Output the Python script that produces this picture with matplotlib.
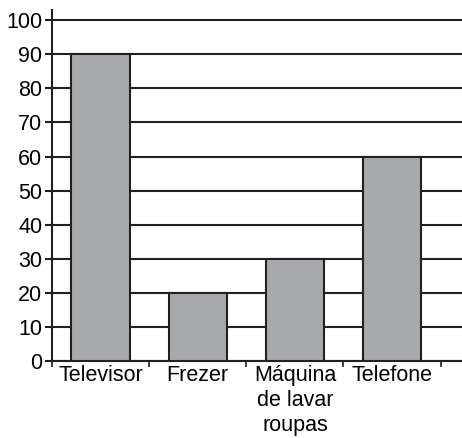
import matplotlib
matplotlib.use('Agg')
from matplotlib import pyplot as plt
import numpy as np

categories = ['Televisor', 'Frezer', 'Máquina\nde lavar\nroupas', 'Telefone']
values = [90, 20, 30, 60]
y_ticks = list(range(0, 101, 10))

plt.rcParams['font.family'] = ['Liberation Sans', 'DejaVu Sans']

fig = plt.figure(figsize=(4.62, 4.38), dpi=100)
ax = fig.add_axes([52 / 462, 1 - 361 / 438, 1 - 52 / 462, 351 / 438])

x = np.arange(len(categories))
ax.bar(x, values, width=0.6, color='#a7a9ac', edgecolor='#231f20', linewidth=1.5, zorder=3)

ax.set_ylim(0, 103)
ax.set_xlim(-0.5, 3.72)
ax.set_yticks(y_ticks)
ax.yaxis.grid(True, color='#231f20', linewidth=1.5, zorder=1)
ax.set_axisbelow(True)

ax.set_xticks(x)
ax.set_xticklabels(categories, fontsize=15.5, linespacing=1.25)
ax.set_xticks(np.arange(len(categories) + 1) - 0.5, minor=True)
ax.tick_params(axis='x', which='major', length=0, pad=3)
ax.tick_params(axis='x', which='minor', length=4, width=1.2, direction='out', color='#231f20')
ax.tick_params(axis='y', length=5, width=1.5, pad=2, labelsize=15.5, color='#231f20')

for side in ['top', 'right']:
    ax.spines[side].set_visible(False)
for side in ['left', 'bottom']:
    ax.spines[side].set_linewidth(1.5)
    ax.spines[side].set_color('#231f20')

fig.savefig('out.png', dpi=100)
